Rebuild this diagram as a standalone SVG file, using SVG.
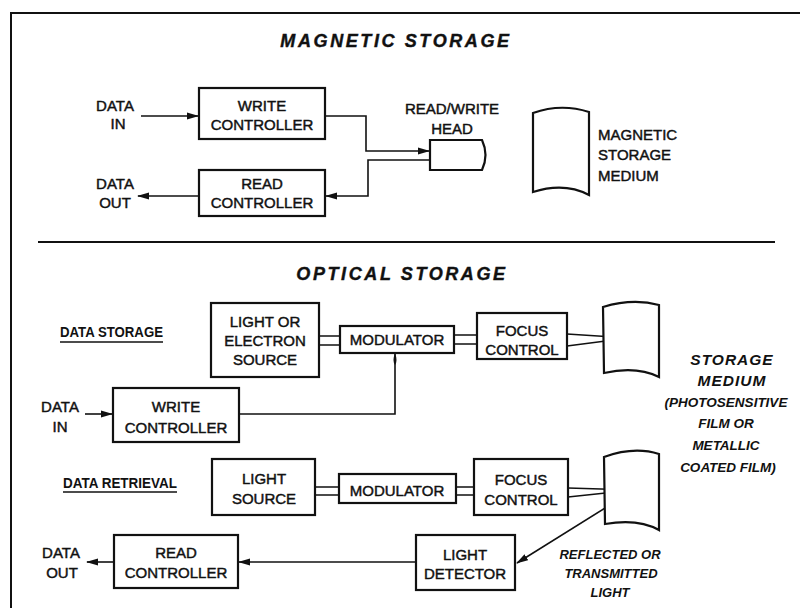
<svg xmlns="http://www.w3.org/2000/svg" width="804" height="613" viewBox="0 0 804 613">
<defs>
<style>
text{font-family:"Liberation Sans",Arial,sans-serif;fill:#111;}
.b{font-size:15px;text-anchor:middle;stroke:#111;stroke-width:0.45px;}
.l{font-size:15px;stroke:#111;stroke-width:0.45px;}
.t{font-size:18px;font-weight:bold;font-style:italic;letter-spacing:2.6px;text-anchor:middle;stroke:#111;stroke-width:0.4px;}
.u{font-size:14px;font-weight:bold;}
.i1{font-size:15.5px;font-weight:bold;font-style:italic;letter-spacing:1px;text-anchor:middle;}
.i2{font-size:13.5px;font-weight:bold;font-style:italic;text-anchor:middle;}
.i3{font-size:13px;font-weight:bold;font-style:italic;text-anchor:middle;}
.box{fill:#fff;stroke:#111;stroke-width:2.2;}
.ln{fill:none;stroke:#111;stroke-width:1.6;}
.med{fill:#fff;stroke:#111;stroke-width:2.2;}
</style>
<marker id="ah" markerUnits="userSpaceOnUse" markerWidth="12" markerHeight="8" refX="11" refY="4" orient="auto">
<path d="M0,0.5 L12,4 L0,7.5 Z" fill="#111"/>
</marker>
<marker id="tip" markerUnits="userSpaceOnUse" markerWidth="12" markerHeight="6" refX="11" refY="3" orient="auto">
<path d="M0,3 Q4,0 12,3 Q4,6 0,3 Z" fill="#111"/>
</marker>
</defs>
<rect width="804" height="613" fill="#fff"/>

<g id="frame" fill="none" stroke="#111" stroke-width="2">
<path d="M11,608 L11,13 L800,13"/>
<path d="M38,242 L775,242" stroke-width="1.8"/>
</g>

<g id="titles">
<text class="t" x="396" y="47">MAGNETIC STORAGE</text>
<text class="t" x="402" y="280">OPTICAL STORAGE</text>
</g>

<g id="connectors">
<line class="ln" x1="141" y1="116" x2="198" y2="116" marker-end="url(#ah)"/>
<path class="ln" d="M325,116 H366 V151 H429" marker-end="url(#ah)"/>
<path class="ln" d="M430,160 H368 V196 H326" marker-end="url(#ah)"/>
<line class="ln" x1="199" y1="196" x2="138" y2="196" marker-end="url(#ah)"/>

<line class="ln" x1="85" y1="414" x2="112" y2="414" marker-end="url(#ah)"/>
<path class="ln" d="M239,414 H395 V354" marker-end="url(#tip)"/>
<path class="ln" d="M319,336 H340 M319,345 H340"/>
<path class="ln" d="M454,335 H477 M454,344 H477"/>
<path class="ln" d="M567,334 L629,338 L567,346"/>

<path class="ln" d="M315,487 H339 M315,495 H339"/>
<path class="ln" d="M456,487 H474 M456,495 H474"/>
<path class="ln" d="M568,488 L634,490 L568,497"/>
<line class="ln" x1="634" y1="490" x2="517" y2="563" marker-end="url(#ah)"/>
<line class="ln" x1="416" y1="562" x2="239" y2="562" marker-end="url(#ah)"/>
<line class="ln" x1="114" y1="562" x2="87" y2="562" marker-end="url(#ah)"/>
</g>

<g id="mag-data-in">
<text class="b" x="115" y="111">DATA</text>
<text class="b" x="118" y="129">IN</text>
</g>
<g id="mag-write-controller">
<rect class="box" x="199" y="88" width="126" height="51"/>
<text class="b" x="262" y="111">WRITE</text>
<text class="b" x="262" y="130">CONTROLLER</text>
</g>
<g id="mag-read-controller">
<rect class="box" x="199" y="170" width="126" height="46"/>
<text class="b" x="262" y="189">READ</text>
<text class="b" x="262" y="208">CONTROLLER</text>
</g>
<g id="mag-data-out">
<text class="b" x="115" y="189">DATA</text>
<text class="b" x="115" y="208">OUT</text>
</g>
<g id="rw-head">
<text class="b" x="452" y="114">READ/WRITE</text>
<text class="b" x="452" y="134">HEAD</text>
<path class="box" d="M430,140 L482,140 Q489,155 482,170 L430,170 Z"/>
</g>
<g id="mag-medium">
<path class="med" d="M533,113 Q561,103 589,112 L589,195 C572,186 552,186 533,192 Z"/>
<text class="l" x="598" y="140">MAGNETIC</text>
<text class="l" x="598" y="160">STORAGE</text>
<text class="l" x="598" y="181">MEDIUM</text>
</g>

<g id="data-storage-label">
<text class="u" x="60" y="337" textLength="103" lengthAdjust="spacingAndGlyphs">DATA STORAGE</text>
<line x1="60" y1="342" x2="163" y2="342" stroke="#111" stroke-width="1.5"/>
</g>
<g id="light-electron-source">
<rect class="box" x="211" y="303" width="108" height="74"/>
<text class="b" x="265" y="327">LIGHT OR</text>
<text class="b" x="265" y="346">ELECTRON</text>
<text class="b" x="265" y="365">SOURCE</text>
</g>
<g id="modulator-1">
<rect class="box" x="340" y="326" width="114" height="27"/>
<text class="b" x="397" y="345">MODULATOR</text>
</g>
<g id="focus-control-1">
<rect class="box" x="477" y="313" width="90" height="46"/>
<text class="b" x="522" y="336">FOCUS</text>
<text class="b" x="522" y="355">CONTROL</text>
</g>
<g id="opt-medium-1">
<path class="med" d="M603,307 Q633,298 659,305 L659,377 C643,369 622,369 604,373 Z"/>
</g>
<g id="opt-data-in">
<text class="b" x="60" y="412">DATA</text>
<text class="b" x="60" y="432">IN</text>
</g>
<g id="opt-write-controller">
<rect class="box" x="113" y="388" width="126" height="54"/>
<text class="b" x="176" y="412">WRITE</text>
<text class="b" x="176" y="433">CONTROLLER</text>
</g>
<g id="storage-medium-label">
<text class="i1" x="732" y="365">STORAGE</text>
<text class="i1" x="732" y="386">MEDIUM</text>
<text class="i2" x="726" y="407">(PHOTOSENSITIVE</text>
<text class="i2" x="726" y="428">FILM OR</text>
<text class="i2" x="726" y="450">METALLIC</text>
<text class="i2" x="728" y="472">COATED FILM)</text>
</g>

<g id="data-retrieval-label">
<text class="u" x="63" y="488" textLength="114" lengthAdjust="spacingAndGlyphs">DATA RETRIEVAL</text>
<line x1="63" y1="492" x2="177" y2="492" stroke="#111" stroke-width="1.5"/>
</g>
<g id="light-source">
<rect class="box" x="212" y="459" width="103" height="56"/>
<text class="b" x="264" y="484">LIGHT</text>
<text class="b" x="264" y="504">SOURCE</text>
</g>
<g id="modulator-2">
<rect class="box" x="339" y="474" width="117" height="29"/>
<text class="b" x="397" y="496">MODULATOR</text>
</g>
<g id="focus-control-2">
<rect class="box" x="474" y="459" width="94" height="56"/>
<text class="b" x="521" y="485">FOCUS</text>
<text class="b" x="521" y="505">CONTROL</text>
</g>
<g id="opt-medium-2">
<path class="med" d="M604,457 Q634,446 659,454 L659,530 C643,521 622,521 605,524 Z"/>
</g>
<g id="light-detector">
<rect class="box" x="416" y="535" width="99" height="55"/>
<text class="b" x="465" y="560">LIGHT</text>
<text class="b" x="465" y="579">DETECTOR</text>
</g>
<g id="opt-read-controller">
<rect class="box" x="114" y="535" width="124" height="53"/>
<text class="b" x="176" y="558">READ</text>
<text class="b" x="176" y="578">CONTROLLER</text>
</g>
<g id="opt-data-out">
<text class="b" x="61" y="558">DATA</text>
<text class="b" x="62" y="578">OUT</text>
</g>
<g id="reflected-label">
<text class="i3" x="610" y="559">REFLECTED OR</text>
<text class="i3" x="611" y="578">TRANSMITTED</text>
<text class="i3" x="610" y="597">LIGHT</text>
</g>
</svg>
